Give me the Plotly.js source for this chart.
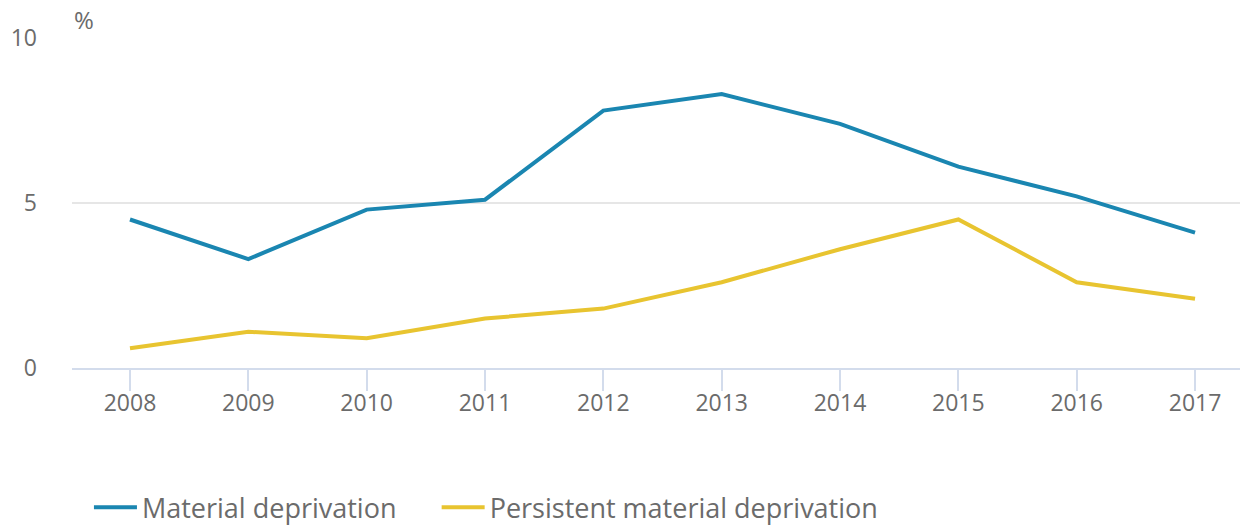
<!DOCTYPE html>
<html><head><meta charset="utf-8">
<script src="https://cdn.plot.ly/plotly-3.0.1.min.js"></script>
<style>html,body{margin:0;padding:0;background:#fff}#chart{width:1244px;height:525px}</style>
</head><body><div id="chart"></div>
<script>
const years = [2008, 2009, 2010, 2011, 2012, 2013, 2014, 2015, 2016, 2017];
const materialDeprivation = [4.5, 3.3, 4.8, 5.1, 7.8, 8.3, 7.4, 6.1, 5.2, 4.1];
const persistentDeprivation = [0.6, 1.1, 0.9, 1.5, 1.8, 2.6, 3.6, 4.5, 2.6, 2.1];
const seriesNames = ['Material deprivation', 'Persistent material deprivation'];
const yTicks = [0, 5, 10];

const font = "'Open Sans', sans-serif";
const traces = [
  {x: years, y: materialDeprivation, name: seriesNames[0], type: 'scatter', mode: 'lines',
   line: {color: '#1a86b1', width: 4}, legend: 'legend'},
  {x: years, y: persistentDeprivation, name: seriesNames[1], type: 'scatter', mode: 'lines',
   line: {color: '#e8c430', width: 4}, legend: 'legend2'}
];
const legendBase = {orientation: 'h', xref: 'container', yref: 'container', xanchor: 'left',
  y: 0.033, yanchor: 'middle', font: {size: 27, color: '#6b6b6b'}, itemwidth: 43, bgcolor: 'rgba(0,0,0,0)'};
const layout = {
  width: 1244, height: 525,
  margin: {l: 72, r: 4, t: 38, b: 157, autoexpand: false},
  paper_bgcolor: '#fff', plot_bgcolor: '#fff',
  font: {family: font, color: '#6b6b6b', size: 23},
  xaxis: {range: [2007.51, 2017.38], tickvals: years, ticktext: years.map(String),
    showgrid: false, zeroline: false, showline: true, linecolor: '#d3dcec', linewidth: 2,
    ticks: 'outside', ticklen: 21, tickwidth: 2, tickcolor: '#d3dcec', ticklabelstandoff: -8,
    tickfont: {size: 23, color: '#6b6b6b'}, automargin: false},
  yaxis: {range: [0, 10], tickvals: yTicks, ticktext: yTicks.map(String),
    showgrid: true, gridcolor: '#e6e6e6', gridwidth: 2, zeroline: false, showline: false,
    ticks: '', ticklabelstandoff: 34, tickfont: {size: 23, color: '#6b6b6b'}, automargin: false},
  showlegend: true,
  legend: Object.assign({}, legendBase, {x: 0.0715}),
  legend2: Object.assign({}, legendBase, {x: 0.351}),
  annotations: [{text: '%', xref: 'paper', yref: 'paper', x: 0, y: 1, xanchor: 'left', yanchor: 'bottom',
    yshift: 0, showarrow: false, font: {size: 24, color: '#6b6b6b'}}]
};
Plotly.newPlot('chart', traces, layout, {displayModeBar: false, staticPlot: true});
</script></body></html>
